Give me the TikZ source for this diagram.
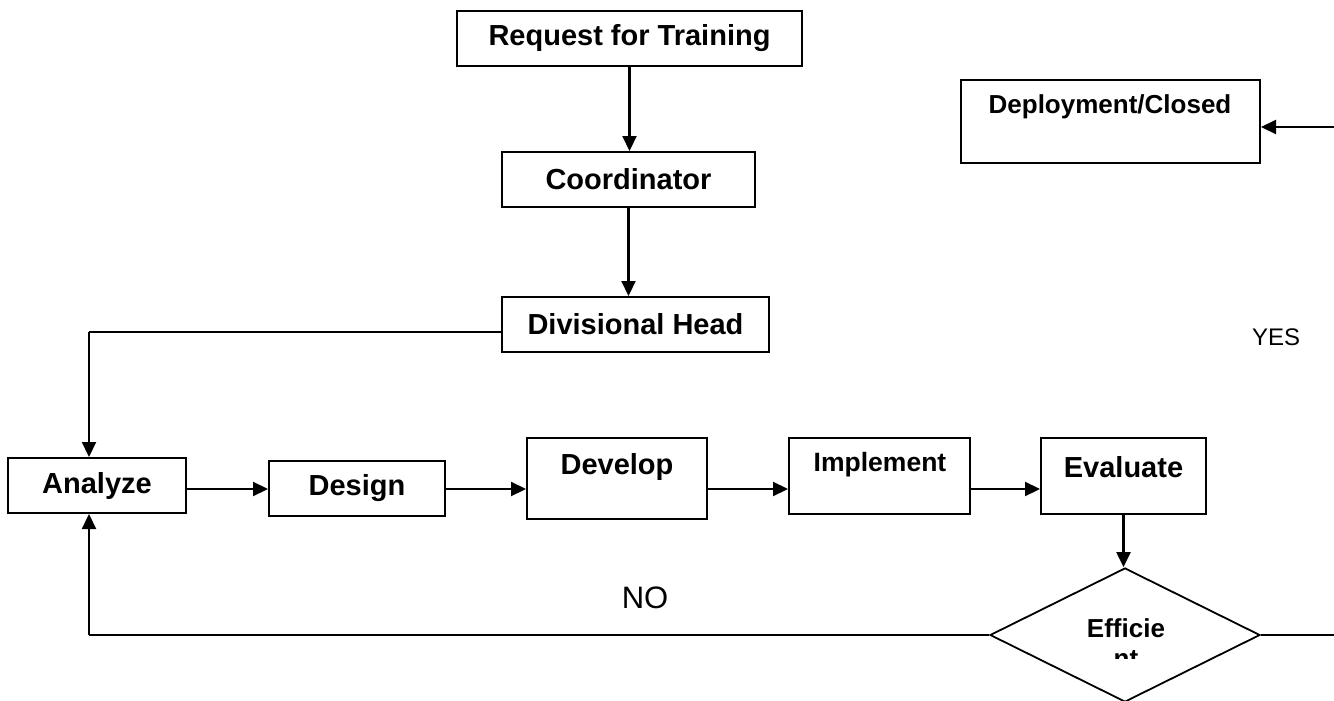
\documentclass[tikz,border=0pt]{standalone}
\usepackage{fontspec}
\setmainfont{Liberation Sans}
\usetikzlibrary{arrows.meta,shapes.geometric}

\tikzset{
  boxnode/.style={draw, line width=2pt, inner sep=0pt, fill=white},
  boldtxt/.style={font=\bfseries\fontsize{29}{34}\selectfont, inner sep=0pt},
  smalltxt/.style={font=\bfseries\fontsize{26.5}{30}\selectfont, inner sep=0pt},
  flow/.style={line width=2.2pt, -{Triangle[length=15pt,width=14pt]}},
  plainline/.style={line width=1.8pt},
}

\begin{document}
\begin{tikzpicture}[x=1pt,y=-1pt]
\useasboundingbox (0,0) rectangle (1334,701);

% upper chain
\node[boxnode, boldtxt, minimum width=345pt, minimum height=55pt] (rq) at (629.5,38.5) {Request for Training};
\node[boxnode, boldtxt, minimum width=253pt, minimum height=55pt] (co) at (628.5,179.5) {Coordinator};
\node[boxnode, boldtxt, minimum width=267pt, minimum height=55pt] (dh) at (635.5,324.5) {Divisional Head};

% closing box
\node[boxnode, minimum width=299pt, minimum height=83pt] (dp) at (1110.5,121.5) {};
\node[font=\bfseries\fontsize{26}{30}\selectfont, inner sep=0pt] (dpt) at (1110,107) {Deployment/Closed};

% main cycle
\node[boxnode, boldtxt, minimum width=178pt, minimum height=55pt] (an) at (97,485.5) {Analyze};
\node[boxnode, boldtxt, minimum width=176pt, minimum height=55pt] (ds) at (357,488.5) {Design};
\node[boxnode, minimum width=180pt, minimum height=81pt] (dv) at (617,478.5) {};
\node[boldtxt] (dvt) at (617,467) {Develop};
\node[boxnode, minimum width=181pt, minimum height=76pt] (im) at (879.5,476) {};
\node[smalltxt] (imt) at (880,465) {Implement};
\node[boxnode, minimum width=165pt, minimum height=76pt] (ev) at (1123.5,476) {};
\node[boldtxt] (evt) at (1123.5,467) {Evaluate};

% decision
\node[draw, shape=diamond, line width=1.8pt, inner sep=0pt,
      minimum width=270pt, minimum height=134pt] (ef) at (1125,635) {};
\node[font=\bfseries\fontsize{26}{30}\selectfont, inner sep=0pt, anchor=base] (eft) at (1126,637) {Efficie};
\begin{scope}
  \clip (1000,640) rectangle (1250,658);
  \node[font=\bfseries\fontsize{26}{30}\selectfont, inner sep=0pt, anchor=base] (eft2) at (1126,667) {nt};
\end{scope}

% free labels
\node[font=\fontsize{24}{28}\selectfont, inner sep=0pt] (yes) at (1276,337) {YES};
\node[font=\fontsize{31}{36}\selectfont, inner sep=0pt] (no) at (645,598) {NO};

% helper points
\coordinate (row) at (0,489);
\coordinate (cl) at (89,332);
\coordinate (cr) at (89,635);
\coordinate (edgeA) at (1334,127);
\coordinate (edgeB) at (1334,635);

% connectors
\draw[flow] (rq.south) -- (rq.south |- co.north);
\draw[flow] (co.south) -- (co.south |- dh.north);
\draw[plainline] (dh.west |- cl) -- (cl);
\draw[flow] (cl) -- (cl |- an.north);
\draw[flow] (an.east |- row) -- (ds.west |- row);
\draw[flow] (ds.east |- row) -- (dv.west |- row);
\draw[flow] (dv.east |- row) -- (im.west |- row);
\draw[flow] (im.east |- row) -- (ev.west |- row);
\draw[flow] (ev.south) -- (ev.south |- ef.north);
\draw[plainline] (ef.west) -- (cr);
\draw[flow] (cr) -- (cr |- an.south);
\draw[plainline] (ef.east) -- (edgeB);
\draw[flow] (edgeA) -- (edgeA -| dp.east);
\end{tikzpicture}
\end{document}
